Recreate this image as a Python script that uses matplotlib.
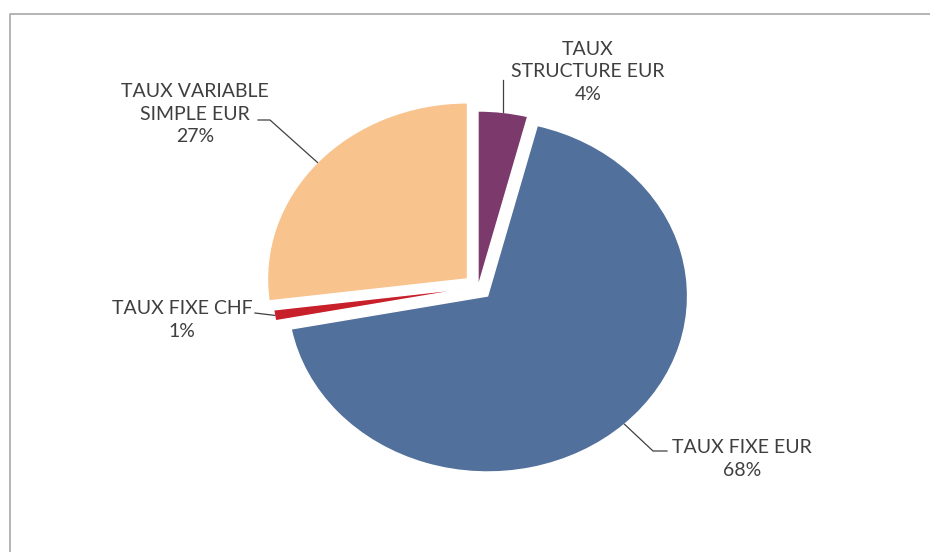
import matplotlib
matplotlib.use('Agg')
import matplotlib.pyplot as plt
from matplotlib.lines import Line2D
import numpy as np

# parts of the debt by rate type, clockwise from 12 o'clock
labels = ['TAUX\nSTRUCTURE EUR', 'TAUX FIXE EUR', 'TAUX FIXE CHF', 'TAUX VARIABLE\nSIMPLE EUR']
values = [4, 68, 1, 27]
colors = ['#7B3A6B', '#52709C', '#C8202A', '#F9C38E']
explode = [0.0, 0.07, 0.03, 0.07]

W, H = 930, 552
cx, cy = 478, 287      # pie centre (px)
rx, ry = 200, 176      # stretched pie radii (px)

def px(x, y):
    # pixel position -> data position
    return (x - cx) / rx, (cy - y) / ry

fig = plt.figure(figsize=(W / 100, H / 100), dpi=100)
ax = fig.add_axes([0, 0, 1, 1])
wedges, _ = ax.pie(values, explode=explode, colors=colors, startangle=90,
                   counterclock=False, wedgeprops=dict(edgecolor='white', linewidth=1))
ax.set_aspect('auto')
ax.set_xlim(-cx / rx, (W - cx) / rx)
ax.set_ylim(-(H - cy) / ry, cy / ry)
ax.axis('off')

# chart frame: only the left and top edges fall inside the image
fx, fy = 10 / W, 1 - 14 / H
fig.add_artist(Line2D([fx, fx, 1.01], [-0.01, fy, fy], transform=fig.transFigure,
                      color='#A8A8A8', linewidth=1.2))

def anchor(w):
    a = np.deg2rad((w.theta1 + w.theta2) / 2)
    return w.center[0] + w.r * np.cos(a), w.center[1] + w.r * np.sin(a)

txt = dict(color='#3F3F3F', fontsize=14, family='Lato', ha='center', va='center',
           linespacing=1.4)
lc = dict(color='#404040', linewidth=0.9)

# label text centres (px) and leader bends (px)
text_pos = [(588, 72), (742, 459), (182, 320), (195, 114)]
bends = [[None, 80], [(653, 451), (667, 451)], [(255, 313)], [(270, 120), (258, 120)]]

for w, lab, v, tp, bend in zip(wedges, labels, values, text_pos, bends):
    ax.text(*px(*tp), f'{lab}\n{v}%', **txt)
    a0 = anchor(w)
    pts = [a0]
    if bend[0] is None:
        # vertical leader straight up from the slice
        pts.append((a0[0], px(0, bend[1])[1]))
    else:
        pts += [px(*b) for b in bend]
    xs, ys = zip(*pts)
    ax.plot(xs, ys, **lc)

fig.savefig('out.png', dpi=100, facecolor='white')
